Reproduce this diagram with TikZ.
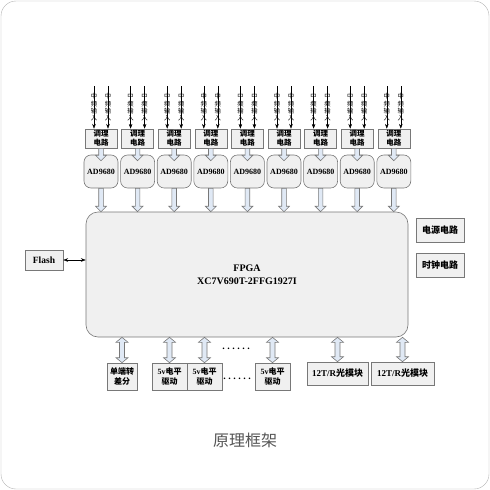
\documentclass[tikz,border=0pt]{standalone}
\usepackage{fontspec}
\setmainfont{Liberation Serif}
\newfontfamily\cjk{Noto Sans CJK SC}
\usepackage{tikz}
\usetikzlibrary{arrows.meta, calc, positioning}
\definecolor{boxgray}{RGB}{240,240,240}
\definecolor{edgegray}{RGB}{120,120,120}
\definecolor{arrowblue}{RGB}{224,233,245}
\definecolor{captiongray}{RGB}{85,85,85}
\newcommand{\zh}[1]{{\cjk #1}}
% hollow block arrow, pointing down
\newcommand{\downblock}[2]{%
  \filldraw[fill=arrowblue, draw=edgegray, line width=0.6pt]
  let \p1=(#1), \p2=(#2) in
  (\x1-2.3pt,\y1) -- (\x1+2.3pt,\y1) -- (\x1+2.3pt,\y2+5.5pt) -- (\x1+5.5pt,\y2+5.5pt)
  -- (\x1,\y2) -- (\x1-5.5pt,\y2+5.5pt) -- (\x1-2.3pt,\y2+5.5pt) -- cycle;}
% hollow block arrow, both ends
\newcommand{\twoblock}[2]{%
  \filldraw[fill=arrowblue, draw=edgegray, line width=0.6pt]
  let \p1=(#1), \p2=(#2) in
  (\x1,\y1) -- (\x1+6pt,\y1-5pt) -- (\x1+2.5pt,\y1-5pt) -- (\x1+2.5pt,\y2+5pt)
  -- (\x1+6pt,\y2+5pt) -- (\x1,\y2) -- (\x1-6pt,\y2+5pt) -- (\x1-2.5pt,\y2+5pt)
  -- (\x1-2.5pt,\y1-5pt) -- (\x1-6pt,\y1-5pt) -- cycle;}

\begin{document}
\begin{tikzpicture}[x=1pt, y=-1pt, >=Stealth]
        \tikzstyle{box}=[draw=edgegray, fill=boxgray, line width=0.6pt, inner sep=0pt, align=center, font=\bfseries\fontsize{8}{10}\selectfont]
        \tikzstyle{tiaobox}=[box, minimum width=32, minimum height=19, font=\bfseries\fontsize{7.5}{9}\selectfont]
        \tikzstyle{adbox}=[box, rounded corners=7, minimum width=34, minimum height=33]
        \tikzstyle{chip}=[box, rounded corners=12, minimum width=322, minimum height=125, font=\bfseries\fontsize{10}{13}\selectfont]
        \tikzstyle{sidebox}=[box, minimum width=48, minimum height=24, font=\bfseries\fontsize{9}{11}\selectfont]
        \tikzstyle{outbox}=[box, minimum width=35, minimum height=27]
        \tikzstyle{optbox}=[box, minimum height=23, font=\bfseries\fontsize{9}{11}\selectfont]
        \tikzstyle{inlabel}=[midway, inner sep=0pt, align=center, font=\fontsize{6.3}{7.4}\selectfont]

        \useasboundingbox (0,0) rectangle (490,490);
        % Outer frame
        \draw[gray!60, rounded corners=15] (1,1) rectangle (489,489);

        % FPGA
        \node (fpga)[chip] at (247,274.5) {FPGA\\XC7V690T-2FFG1927I};

        % Input channels
        \foreach \i in {0,...,8}{
            \pgfmathsetmacro{\cx}{101+36.6*\i}
            \node (tl\i)[tiaobox] at (\cx,138.5) {\zh{调理}\\\zh{电路}};
            \node (ad\i)[adbox] at (\cx,171.5) {AD9680};
            \coordinate (ina\i) at (\cx-7,86);
            \coordinate (inb\i) at (\cx+7,86);
            \draw[->] (ina\i) -- (ina\i |- tl\i.north)
                node[inlabel] {\zh{中}\\\zh{频}\\\zh{输}\\\zh{入}};
            \draw[->] (inb\i) -- (inb\i |- tl\i.north)
                node[inlabel] {\zh{中}\\\zh{频}\\\zh{输}\\\zh{入}};
            \downblock{tl\i.south}{$(ad\i.north)+(0,6)$}
            \downblock{ad\i.south}{ad\i.south |- fpga.north}
        }

        % Flash
        \node (flash)[box, minimum width=38, minimum height=20, font=\bfseries\fontsize{9.5}{11}\selectfont] at (44,260) {Flash};
        \draw[<->] (flash.east) -- (flash.east -| fpga.west);

        % Power and clock
        \node (power)[sidebox] at (440,230) {\zh{电源电路}};
        \node (clock)[sidebox] at (440,265.5) {\zh{时钟电路}};

        % Output boxes
        \node (diff)[outbox, minimum width=30] at (122,376.5) {\zh{单端转}\\\zh{差分}};
        \node (drva)[outbox] at (169.5,376.5) {5v\zh{电平}\\\zh{驱动}};
        \node (drvb)[outbox] at (204.5,376.5) {5v\zh{电平}\\\zh{驱动}};
        \node (drvc)[outbox] at (272.5,376.5) {5v\zh{电平}\\\zh{驱动}};
        \node (opta)[optbox, minimum width=61] at (337.5,373.5) {12T/R\zh{光模块}};
        \node (optb)[optbox, minimum width=63] at (402.5,373.5) {12T/R\zh{光模块}};
        \node (dotsa)[font=\bfseries] at (236,349) {.\kern2.5pt.\kern2.5pt.\kern2.5pt.\kern2.5pt.\kern2.5pt.};
        \node (dotsb)[font=\bfseries] at (237,379) {.\kern2.5pt.\kern2.5pt.\kern2.5pt.\kern2.5pt.\kern2.5pt.};

        % --- Bidirectional links ---
        \foreach \b in {diff,drva,drvb,drvc,opta,optb}{
            \twoblock{fpga.south -| \b.north}{\b.north}
        }

        % Caption
        \node (title)[text=captiongray, font=\fontsize{16}{16}\selectfont] at (245,440) {\zh{原理框架}};
    \end{tikzpicture}
\end{document}
